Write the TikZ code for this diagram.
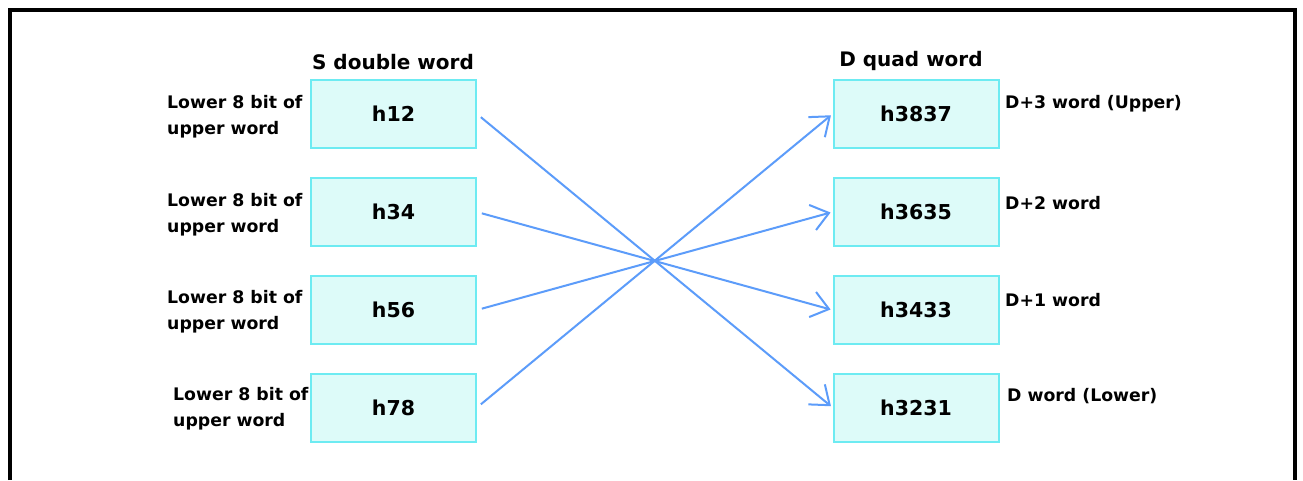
\documentclass[tikz,border=0pt]{standalone}
\usepackage{fontspec}
\setmainfont{DejaVu Sans}
\usetikzlibrary{arrows.meta}
\definecolor{boxfill}{HTML}{DDFBF9}
\definecolor{boxline}{HTML}{6DEBF2}
\definecolor{arrowc}{HTML}{5C9CFA}
\tikzset{
  valbox/.style={draw=boxline, fill=boxfill, line width=2pt, minimum width=165pt, minimum height=68pt, inner sep=0pt, font=\bfseries\fontsize{20.5}{24}\selectfont},
  hdr/.style={font=\bfseries\fontsize{20}{24}\selectfont, inner sep=0pt},
  lbl/.style={font=\bfseries\fontsize{17.3}{26}\selectfont, align=left, inner sep=0pt, anchor=west},
  rlbl/.style={font=\bfseries\fontsize{17.3}{26}\selectfont, inner sep=0pt, anchor=west},
  conn/.style={draw=arrowc, line width=2pt, -{Straight Barb[length=17pt,width=26pt,line width=2pt]}, shorten <=5pt, shorten >=2pt}
}
\begin{document}
\begin{tikzpicture}[x=1pt,y=-1pt]
\useasboundingbox (0,0) rectangle (1303,480);
\fill[white] (0,0) rectangle (1303,480);
\draw[line width=4.5pt, line cap=butt] (10,480) -- (10,10) -- (1295,10) -- (1295,480);
% headers
\node[hdr] (sh) at (393,62) {S double word};
\node[hdr] (dh) at (911,61) {D quad word};
% source boxes
\node[valbox] (s1) at (393.5,114) {h12};
\node[valbox] (s2) at (393.5,212) {h34};
\node[valbox] (s3) at (393.5,310) {h56};
\node[valbox] (s4) at (393.5,407.5) {h78};
% dest boxes
\node[valbox] (d1) at (916,114) {h3837};
\node[valbox] (d2) at (916,212) {h3635};
\node[valbox] (d3) at (916,310) {h3433};
\node[valbox] (d4) at (916,407.5) {h3231};
% left labels
\node[lbl] (l1) at (167,117) {Lower 8 bit of\\upper word};
\node[lbl] (l2) at (167,215) {Lower 8 bit of\\upper word};
\node[lbl] (l3) at (167,312) {Lower 8 bit of\\upper word};
\node[lbl] (l4) at (173,409) {Lower 8 bit of\\upper word};
% right labels
\node[rlbl] (r1) at (1005,104) {D+3 word (Upper)};
\node[rlbl] (r2) at (1005,203) {D+2 word};
\node[rlbl] (r3) at (1005,300) {D+1 word};
\node[rlbl] (r4) at (1007,396) {D word (Lower)};
% connectors
\draw[conn] (s1.east) -- (d4.west);
\draw[conn] (s2.east) -- (d3.west);
\draw[conn] (s3.east) -- (d2.west);
\draw[conn] (s4.east) -- (d1.west);
\end{tikzpicture}
\end{document}
